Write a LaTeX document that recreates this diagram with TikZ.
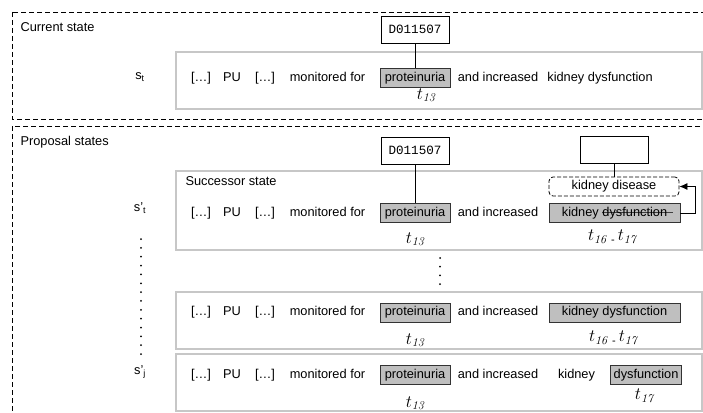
\documentclass[tikz,border=0pt]{standalone}
\usepackage[no-math]{fontspec}
\setmainfont{Liberation Sans}
\setmonofont{Liberation Mono}
\usetikzlibrary{
    positioning,
    arrows.meta
    }

\newsavebox{\strikebox}
\newcommand{\struckout}[1]{\sbox{\strikebox}{#1}\rlap{\color{black!75}\rule[0.3em]{\dimexpr\wd\strikebox+6pt\relax}{0.7pt}}\usebox{\strikebox}\hspace{6pt}}

\begin{document}
\begin{tikzpicture}[x=1pt, y=-1pt, font=\fontsize{12.8}{15}\selectfont]
\tikzset{frame/.style =
        {
            dash pattern=on 5pt off 3pt,
            line width=0.9pt
        }
}

\tikzset{panel/.style =
        {
            rectangle,
            draw=black!22,
            line width=1.4pt,
            minimum width=526pt,
            inner sep=0pt
        }
}

\tikzset{word/.style =
        {
            inner sep=0pt,
            text height=9.5pt,
            text depth=2.7pt
        }
}

\tikzset{term/.style =
        {
            word,
            draw=black!80,
            fill=gray!50,
            line width=0.8pt,
            inner xsep=3pt,
            minimum height=19pt
        }
}

\tikzset{proposed/.style =
        {
            word,
            draw,
            rounded corners=4pt,
            dash pattern=on 4pt off 2pt,
            line width=0.8pt,
            minimum width=130pt,
            minimum height=19pt
        }
}

\tikzset{concept/.style =
        {
            rectangle,
            draw,
            line width=0.8pt,
            minimum width=68pt,
            minimum height=27pt,
            font=\ttfamily\fontsize{12.6}{15}\selectfont
        }
}

\tikzset{mention/.style = { font=\fontsize{17.5}{20}\selectfont } }

\tikzset{link/.style = { line width=0.8pt } }

\tikzset{swap/.style = {
            line width=0.8pt,
            -{Latex[length=8pt, width=7pt]}
        }
}

\useasboundingbox (0,0) rectangle (703,412);
\clip (0,0) rectangle (703,412);

% frames around the two groups of states
\draw[frame] (12,12) rectangle (712,119);
\draw[frame] (12,126) rectangle (712,430);
\node[anchor=west] at (17,27) (cur-title) {Current state};
\node[anchor=west] at (17,142) (prop-title) {Proposal states};

\foreach \row / \y / \h in {a/80.5/57pt, b/210.5/79pt, c/320.5/57pt, d/382.5/57pt}
    \node[panel, minimum height=\h] at (439,\y) (panel-\row) {};
\node[anchor=west] at (182,181) (succ-title) {Successor state};

\node at (140,77) (s-cur) {s\textsubscript{t}};
\node at (140,208) (s-succ) {s'\textsubscript{t}};
\node at (140,372) (s-last) {s'\textsubscript{j}};

\foreach \i in {0,...,13}
    \fill (141,{239+8.85*\i}) circle [radius=1pt];
\foreach \i in {0,...,3}
    \fill (440,{258+8.7*\i}) circle [radius=1pt];

% the sentence, once per state
\foreach \row / \y in {a/78, b/213, c/312.5, d/375}
{
    \node[word] at (201,\y) (\row-pre) {[…]};
    \node[word] at (232,\y) (\row-pu) {PU};
    \node[word] at (265,\y) (\row-mid) {[…]};
    \node[word] at (327.5,\y) (\row-mon) {monitored for};
    \node[term, minimum width=70pt] at (415,\y) (\row-prot) {proteinuria};
    \node[word] at (498,\y) (\row-inc) {and increased};
}

\node[word] at (600,78) (a-kd) {kidney dysfunction};
\node[term, minimum width=131pt] at (614.5,213) (b-kd) {kidney \struckout{dysfunction}};
\node[term, minimum width=131pt] at (614.5,312.5) (c-kd) {kidney dysfunction};
\node[word] at (576.5,375) (d-kidney) {kidney};
\node[term, minimum width=70pt] at (646,375) (d-dys) {dysfunction};

\node[mention] at (427,95) (a-t) {$t_{\mathit{13}}$};
\foreach \row / \y in {b/239, c/340, d/403}
    \node[mention] at (416,\y) (\row-t) {$t_{\mathit{13}}$};
\node[mention] at (613,238) (b-span) {$t_{\mathit{16}}$\,\raisebox{-0.3ex}{\fontsize{11}{12}\selectfont -}\,$t_{\mathit{17}}$};
\node[mention] at (614,339) (c-span) {$t_{\mathit{16}}$\,\raisebox{-0.3ex}{\fontsize{11}{12}\selectfont -}\,$t_{\mathit{17}}$};
\node[mention] at (645,397) (d-t) {$t_{\mathit{17}}$};

% linked concepts
\node[concept] at (415,29.5) (a-mesh) {D011507};
\node[concept] at (415,150.5) (b-mesh) {D011507};
\node[concept] at (614,150) (b-mesh-new) {};
\node[proposed] at (614,186.5) (b-new) {kidney disease};

\draw[link] (a-mesh) -- (a-prot);
\draw[link] (b-mesh) -- (b-prot);
\draw[link] (b-mesh-new) -- (b-new);
\draw[swap] (b-kd.east) -- ++(15,0) |- (b-new.east);
\end{tikzpicture}
\end{document}
